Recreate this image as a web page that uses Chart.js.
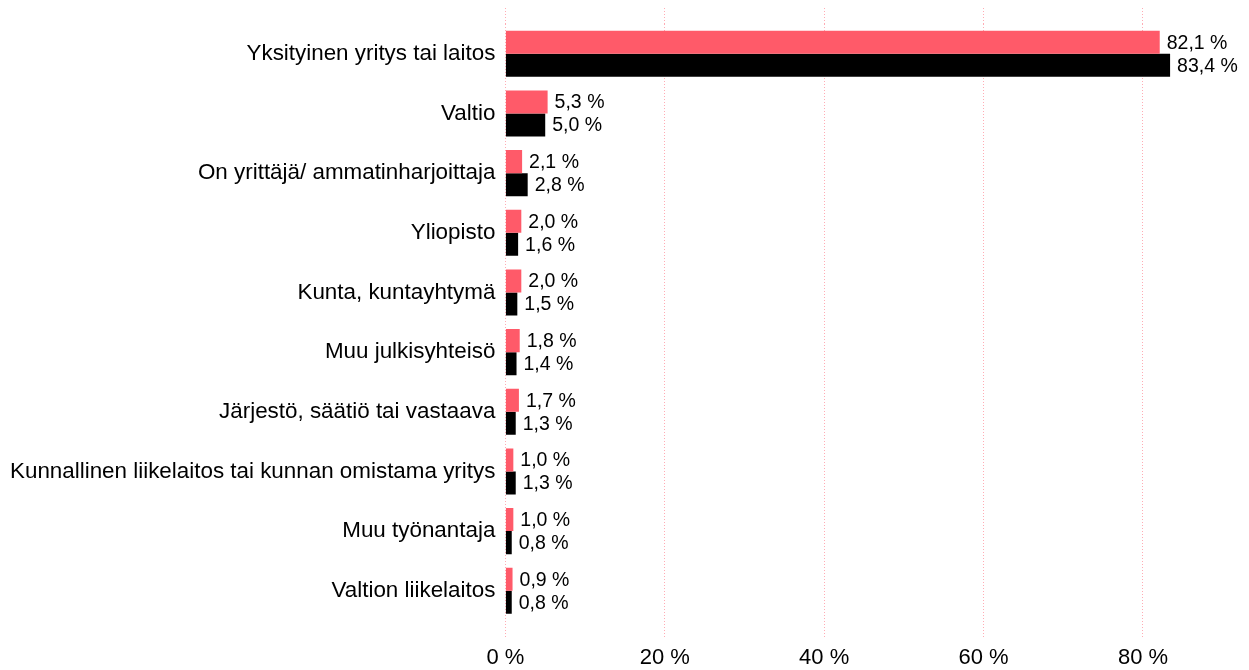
<!DOCTYPE html>
<html>
<head>
<meta charset="utf-8">
<script src="https://cdn.jsdelivr.net/npm/chart.js@4/dist/chart.umd.min.js"></script>
<style>
  body { margin: 0; background: #fff; }
  #wrap { width: 1249px; height: 670px; }
</style>
</head>
<body>
<div id="wrap"><canvas id="chartTyonantaja"></canvas></div>
<script>
const categories = [
    'Yksityinen yritys tai laitos',
    'Valtio',
    'On yrittäjä/ ammatinharjoittaja',
    'Yliopisto',
    'Kunta, kuntayhtymä',
    'Muu julkisyhteisö',
    'Järjestö, säätiö tai vastaava',
    'Kunnallinen liikelaitos tai kunnan omistama yritys',
    'Muu työnantaja',
    'Valtion liikelaitos'
]
const sarja1 = [82.1, 5.3, 2.1, 2.0, 2.0, 1.8, 1.7, 1.0, 1.0, 0.9]
const sarja2 = [83.4, 5.0, 2.8, 1.6, 1.5, 1.4, 1.3, 1.3, 0.8, 0.8]
const xTicks = [0, 20, 40, 60, 80]

const fontFamily = '"Liberation Sans", Arial, sans-serif'
const gridColor = 'rgba(255, 90, 106, 0.5)'

const formatPct = v => v.toFixed(1).replace('.', ',') + ' %'

// value labels to the right of each bar
const valueLabels = {
    id: 'valueLabels',
    afterDatasetsDraw(chart) {
        const ctx = chart.ctx
        ctx.save()
        ctx.font = '19.5px ' + fontFamily
        ctx.fillStyle = '#000'
        ctx.textAlign = 'left'
        ctx.textBaseline = 'middle'
        chart.data.datasets.forEach((ds, i) => {
            chart.getDatasetMeta(i).data.forEach((bar, j) => {
                ctx.fillText(formatPct(ds.data[j]), bar.x + 7, bar.y + 1)
            })
        })
        ctx.restore()
    }
}

const keepTicks = scale => {
    scale.ticks = xTicks.map(v => ({ value: v }))
}

const ctx = document.getElementById('chartTyonantaja').getContext('2d')

const chartTyonantaja = new Chart(ctx, {
    type: 'bar',
    data: {
        labels: categories,
        datasets: [{
            label: 'Sarja 1',
            data: sarja1,
            backgroundColor: '#ff5a69',
            barPercentage: 1,
            categoryPercentage: 0.772
        }, {
            label: 'Sarja 2',
            data: sarja2,
            backgroundColor: '#000000',
            barPercentage: 1,
            categoryPercentage: 0.772
        }]
    },
    options: {
        indexAxis: 'y',
        responsive: true,
        maintainAspectRatio: false,
        animation: false,
        layout: { padding: { top: 8, right: 0, left: 0, bottom: -7 } },
        plugins: {
            legend: { display: false },
            tooltip: { enabled: false }
        },
        scales: {
            x: {
                position: 'bottom',
                min: 0,
                max: 93.3,
                afterBuildTicks: keepTicks,
                border: { display: false, dash: [1, 2] },
                grid: {
                    color: gridColor,
                    tickColor: gridColor,
                    tickBorderDash: [1, 2],
                    tickLength: 18
                },
                ticks: {
                    padding: 6,
                    color: '#000',
                    font: { family: fontFamily, size: 22 },
                    callback: v => v + ' %'
                }
            },
            x2: {
                position: 'top',
                axis: 'x',
                min: 0,
                max: 93.3,
                afterBuildTicks: keepTicks,
                border: { display: false },
                grid: {
                    drawOnChartArea: false,
                    tickColor: gridColor,
                    tickBorderDash: [1, 2],
                    tickLength: 16
                },
                ticks: { display: false }
            },
            y: {
                border: { display: false },
                grid: { display: false, drawTicks: false },
                ticks: {
                    padding: 10,
                    color: '#000',
                    font: { family: fontFamily, size: 22.4 }
                }
            }
        }
    },
    plugins: [valueLabels]
})
</script>
</body>
</html>
